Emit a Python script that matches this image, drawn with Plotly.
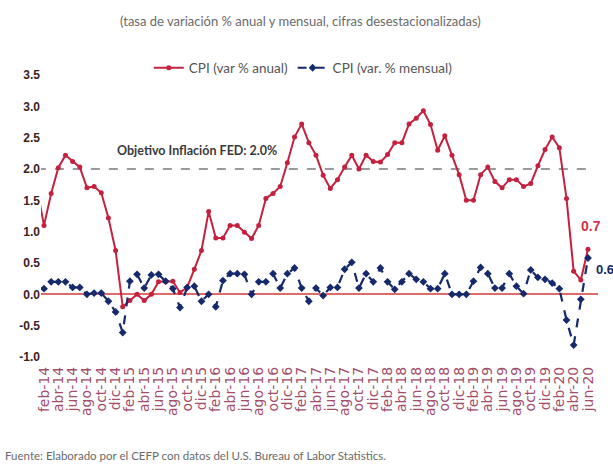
import plotly.graph_objects as go

meses = ["ene", "feb", "mar", "abr", "may", "jun", "jul", "ago", "sep", "oct", "nov", "dic"]
periodos = [f"{m}-{str(a)[2:]}" for a in range(2014, 2021) for m in meses][:78]

cpi_anual = [1.70, 1.10, 1.61, 2.02, 2.22, 2.12, 2.03, 1.70, 1.72, 1.62, 1.22, 0.70,
             -0.20, -0.10, 0.00, -0.10, 0.00, 0.20, 0.20, 0.21, 0.03, 0.11, 0.40, 0.70,
             1.32, 0.90, 0.90, 1.10, 1.10, 0.99, 0.89, 1.10, 1.53, 1.61, 1.72, 2.10,
             2.51, 2.72, 2.42, 2.22, 1.90, 1.69, 1.83, 2.03, 2.22, 2.00, 2.22, 2.12,
             2.11, 2.23, 2.42, 2.42, 2.72, 2.81, 2.93, 2.71, 2.30, 2.53, 2.22, 1.91,
             1.50, 1.50, 1.91, 2.03, 1.80, 1.70, 1.83, 1.83, 1.72, 1.77, 2.05, 2.31,
             2.51, 2.34, 1.53, 0.37, 0.23, 0.72]

cpi_mensual = [0.10, 0.09, 0.20, 0.20, 0.20, 0.11, 0.11, 0.00, 0.02, 0.02, -0.11, -0.28,
               -0.61, 0.21, 0.32, 0.10, 0.31, 0.32, 0.21, 0.09, -0.21, 0.11, 0.13, -0.11,
               0.00, -0.20, 0.22, 0.33, 0.33, 0.32, 0.00, 0.20, 0.20, 0.33, 0.10, 0.33,
               0.42, 0.10, -0.11, 0.10, -0.02, 0.11, 0.11, 0.40, 0.51, 0.10, 0.33, 0.20,
               0.42, 0.20, 0.08, 0.20, 0.33, 0.24, 0.20, 0.09, 0.09, 0.33, 0.00, 0.00,
               0.00, 0.21, 0.43, 0.33, 0.10, 0.10, 0.33, 0.13, 0.01, 0.39, 0.27, 0.24,
               0.18, 0.09, -0.41, -0.81, -0.08, 0.58]

objetivo_fed = 2.0
y_ticks = [-1.0, -0.5, 0.0, 0.5, 1.0, 1.5, 2.0, 2.5, 3.0, 3.5]
y_ticktext = ["-1.0", "-0.5", "0.0", "0.5", "1.0", "1.5", "2.0", "2.5", "3.0", "3.5"]
x_ticks = periodos[1::2]

ROJO = "#c4213f"
AZUL = "#15296b"
FONT = "Lato, sans-serif"

fig = go.Figure()

fig.add_trace(go.Scatter(
    x=periodos, y=[objetivo_fed] * len(periodos), mode="lines",
    line=dict(color="#9a9a9a", width=2, dash="dash"),
    showlegend=False, hoverinfo="skip"))

fig.add_trace(go.Scatter(
    x=periodos, y=cpi_anual, mode="lines+markers", name="CPI (var % anual)",
    line=dict(color=ROJO, width=2), marker=dict(color=ROJO, size=5, symbol="circle")))

fig.add_trace(go.Scatter(
    x=periodos, y=cpi_mensual, mode="lines+markers", name="CPI (var. % mensual)",
    line=dict(color=AZUL, width=2.2, dash="dash"),
    marker=dict(color=AZUL, size=6, symbol="diamond")))

fig.add_annotation(x=periodos[-1], y=cpi_anual[-1], text="<b>0.7</b>", showarrow=False,
                   yshift=23, xshift=3, font=dict(color="#d0334a", size=14, family="Liberation Sans, sans-serif"))
fig.add_annotation(x=periodos[-1], y=cpi_mensual[-1], text="<b>0.6</b>", showarrow=False,
                   xshift=6, yshift=-12, xanchor="left",
                   font=dict(color=AZUL, size=13, family="Liberation Sans, sans-serif"))
fig.add_annotation(x=periodos[22], y=objetivo_fed, text="<b>Objetivo Inflación FED: 2.0%</b>",
                   showarrow=False, xshift=3, yshift=19, font=dict(color="#3a3a3a", size=12.5, family=FONT))

fig.add_annotation(xref="paper", yref="paper", x=0.465, y=1.0, yshift=64, xanchor="center",
                   text="(tasa de variación % anual y mensual, cifras desestacionalizadas)",
                   showarrow=False, font=dict(color="#6a6a6a", size=13, family=FONT))
fig.add_annotation(xref="paper", yref="paper", x=-0.068, xanchor="left", y=0, yshift=-107,
                   text="Fuente: Elaborado por el CEFP con datos del U.S. Bureau of Labor Statistics.",
                   showarrow=False, font=dict(color="#6a6a6a", size=11.5, family=FONT))

fig.update_layout(
    width=613, height=464,
    margin=dict(l=41, r=15, t=75, b=107, autoexpand=False),
    paper_bgcolor="white", plot_bgcolor="white",
    font=dict(family=FONT),
    legend=dict(orientation="h", x=0.47, xanchor="center", y=1.025, yanchor="middle",
                font=dict(color="#555555", size=13.5, family=FONT), bgcolor="rgba(0,0,0,0)"),
    showlegend=True,
)

fig.update_xaxes(type="category", range=[0.58, 78.4], tickmode="array", tickvals=x_ticks,
                 tickangle=-90, showgrid=False, showline=False, zeroline=False, ticks="",
                 automargin=False, ticklabelstandoff=6,
                 tickfont=dict(color="#a24e6a", size=14, family="DejaVu Sans, sans-serif"))
fig.update_yaxes(range=[-1.0, 3.5], tickmode="array", tickvals=y_ticks,
                 ticktext=[f"<b>{t}</b>" for t in y_ticktext],
                 showgrid=False, showline=False, zeroline=True, zerolinecolor="#e06a6a",
                 zerolinewidth=1.5, ticks="", automargin=False,
                 tickfont=dict(color="#3b2222", size=12, family="Liberation Sans, sans-serif"))

fig.write_html("out.html", config={"displayModeBar": False},
               post_script="document.body.style.margin='0';")
